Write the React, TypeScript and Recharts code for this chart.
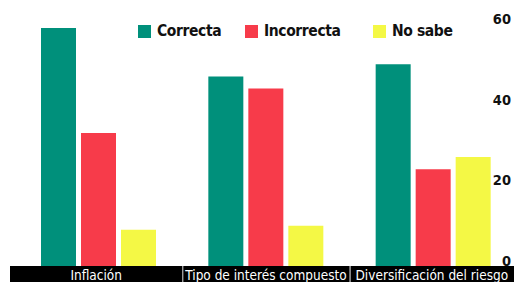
import { BarChart, Bar, XAxis, YAxis, Legend } from 'recharts';

const categories = ['Inflación', 'Tipo de interés compuesto', 'Diversificación del riesgo'];
const correcta = [59, 47, 50];
const incorrecta = [33, 44, 24];
const noSabe = [9, 10, 27];
const yTicks = [0, 20, 40, 60];

const seriesNames = ['Correcta', 'Incorrecta', 'No sabe'];
const colors = ['#00907B', '#F73B4A', '#F4F845'];
const legendWidths = [107, 128, 90];

const W = 514;
const H = 282;
const LEFT = 10;
const RIGHT = -4;
const PAD_LEFT = 5;
const BAND = (W - LEFT - RIGHT - PAD_LEFT - 1) / categories.length;
const FONT = '"DejaVu Sans Condensed", "DejaVu Sans", sans-serif';

const data = categories.map((name, i) => ({
  name,
  correcta: correcta[i],
  incorrecta: incorrecta[i],
  noSabe: noSabe[i],
}));

function CategoryTick(props: any) {
  const { x, y, payload, index } = props;
  const left = index === 0 ? LEFT : x - BAND / 2;
  const right = index === categories.length - 1 ? W : x + BAND / 2;
  return (
    <g>
      <rect x={left} y={y} width={right - left} height={16} fill="#000" />
      {index > 0 && <line x1={left + 0.5} x2={left + 0.5} y1={y} y2={y + 16} stroke="#ccc" strokeWidth={1} />}
      <text
        x={(left + right) / 2}
        y={y + 14}
        textAnchor="middle"
        fill="#fff"
        fontFamily={FONT}
        style={{ fontStretch: 'condensed' }}
        fontSize={13.5}
      >
        {payload.value}
      </text>
    </g>
  );
}

function ValueTick(props: any) {
  const { y, payload } = props;
  return (
    <text
      x={W - 3}
      y={y}
      textAnchor="end"
      fill="#111"
      fontFamily={FONT}
      style={{ fontStretch: 'condensed' }}
      fontWeight="bold"
      fontSize={14.5}
    >
      {payload.value}
    </text>
  );
}

function LegendContent() {
  return (
    <div
      style={{
        display: 'flex',
        alignItems: 'center',
        whiteSpace: 'nowrap',
        fontFamily: FONT,
        fontStretch: 'condensed',
        fontWeight: 'bold',
        fontSize: 15.5,
        letterSpacing: -0.4,
        color: '#111',
      }}
    >
      {seriesNames.map((n, i) => (
        <div key={n} style={{ display: 'flex', alignItems: 'center', width: legendWidths[i] }}>
          <span style={{ width: 13, height: 13, background: colors[i], display: 'inline-block', marginRight: 6 }} />
          <span>{n}</span>
        </div>
      ))}
    </div>
  );
}

export default function App() {
  return (
    <div style={{ position: 'absolute', left: 0, top: 0, width: W, height: H, background: '#fff', overflow: 'hidden' }}>
      <BarChart
        width={W}
        height={H}
        data={data}
        margin={{ top: 24, right: RIGHT, left: LEFT, bottom: 0 }}
        barSize={35}
        barGap={5}
      >
        <XAxis
          dataKey="name"
          height={16}
          axisLine={false}
          tickLine={false}
          tickSize={0}
          tickMargin={0}
          interval={0}
          padding={{ left: PAD_LEFT, right: 0 }}
          tick={<CategoryTick />}
        />
        <YAxis
          orientation="right"
          width={1}
          domain={[0, 60]}
          ticks={yTicks}
          interval={0}
          axisLine={false}
          tickLine={false}
          tickSize={0}
          tickMargin={0}
          tick={<ValueTick />}
        />
        <Legend
          layout="horizontal"
          verticalAlign="middle"
          align="center"
          content={<LegendContent />}
          wrapperStyle={{ top: 22, left: 138, width: 360, height: 20 }}
        />
        <Bar dataKey="correcta" name={seriesNames[0]} fill={colors[0]} isAnimationActive={false} />
        <Bar dataKey="incorrecta" name={seriesNames[1]} fill={colors[1]} isAnimationActive={false} />
        <Bar dataKey="noSabe" name={seriesNames[2]} fill={colors[2]} isAnimationActive={false} />
      </BarChart>
    </div>
  );
}
